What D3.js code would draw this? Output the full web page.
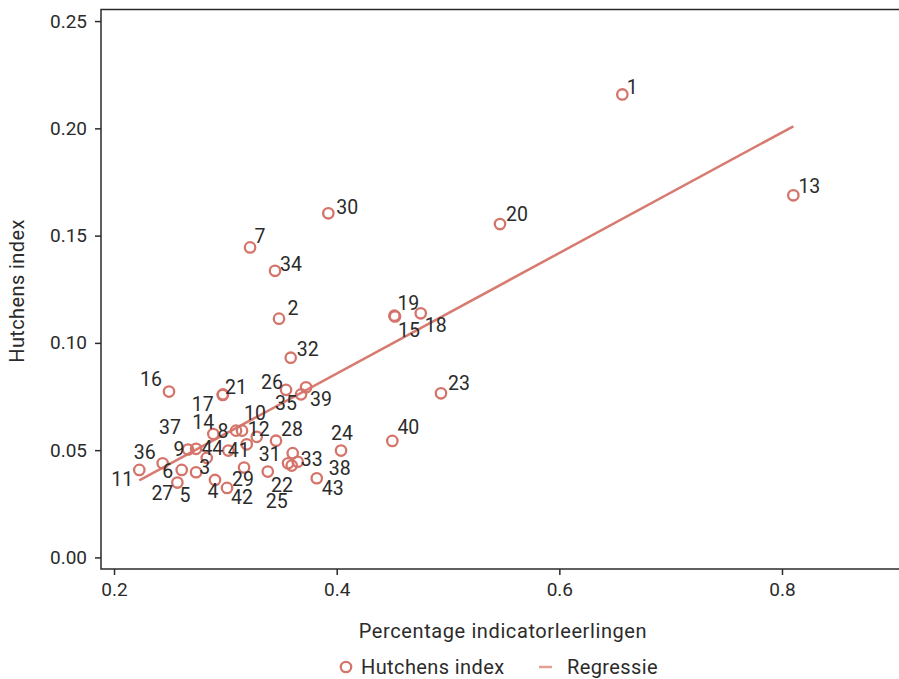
<!DOCTYPE html>
<html>
<head>
<meta charset="utf-8">
<script src="https://cdn.jsdelivr.net/npm/d3@7"></script>
<style>
  html, body { margin: 0; padding: 0; background: #fff; }
  svg text { font-family: Roboto, "DejaVu Sans", sans-serif; fill: #2b2b2b; }
</style>
</head>
<body>
<div id="chart"></div>
<script>
// school ids, share of indicator pupils (x) and Hutchens index (y)
const ids = [1, 2, 3, 4, 5, 6, 7, 8, 9, 10, 11, 12, 13, 14, 15, 16, 17, 18, 19, 20, 21, 22,
  23, 24, 25, 26, 27, 28, 29, 30, 31, 32, 33, 34, 35, 36, 37, 38, 39, 40, 41, 42, 43, 44];
const pctIndicator = [0.6566, 0.3482, 0.2833, 0.2907, 0.2737, 0.2608, 0.3222, 0.3096, 0.2665, 0.3150, 0.2227,
  0.3282, 0.8102, 0.2892, 0.4524, 0.2494, 0.2976, 0.4755, 0.4518, 0.5467, 0.2979, 0.3563,
  0.4937, 0.4039, 0.3596, 0.3545, 0.2569, 0.3455, 0.3168, 0.3925, 0.3381, 0.3587, 0.3650,
  0.3446, 0.3680, 0.2437, 0.2737, 0.3605, 0.3725, 0.4500, 0.3192, 0.3015, 0.3821, 0.3027];
const hutchens = [0.2158, 0.1113, 0.0464, 0.0361, 0.0397, 0.0408, 0.1445, 0.0591, 0.0503, 0.0591, 0.0408,
  0.0562, 0.1688, 0.0575, 0.1123, 0.0773, 0.0757, 0.1138, 0.1127, 0.1554, 0.0760, 0.0439,
  0.0765, 0.0498, 0.0428, 0.0781, 0.0349, 0.0544, 0.0419, 0.1604, 0.0400, 0.0931, 0.0446,
  0.1336, 0.0760, 0.0439, 0.0506, 0.0486, 0.0793, 0.0543, 0.0527, 0.0324, 0.0369, 0.0498];

// fitted line
const regIntercept = -0.0267;
const regSlope = 0.281;

const xTicks = [0.2, 0.4, 0.6, 0.8];
const yTicks = [0.00, 0.05, 0.10, 0.15, 0.20, 0.25];
const xDomain = [0.1883, 0.9051];
const yDomain = [-0.0054, 0.2554];

const xTitle = 'Percentage indicatorleerlingen';
const yTitle = 'Hutchens index';
const legendLabels = ['Hutchens index', 'Regressie'];

// label placement (pixels from the marker centre)
const labelOffset = {
  1: [10, -7], 2: [14, -10], 3: [-2, 10], 4: [-2, 12], 5: [-11, 23], 6: [-14, 2], 7: [10, -11],
  8: [-13, 1], 9: [-9, 0], 10: [13, -17], 11: [-17, 10], 12: [2, -7], 13: [16, -9], 14: [-10, -12],
  15: [14, 14], 16: [-18, -12], 17: [-20, 9], 18: [15, 12], 19: [14, -12], 20: [17, -10],
  21: [13, -7], 22: [-6, 22], 23: [18, -10], 24: [1, -17], 25: [-15, 36], 26: [-14, -7],
  27: [-15, 11], 28: [16, -11], 29: [-1, 12], 30: [19, -6], 31: [2, -17], 32: [17, -8],
  33: [14, -2], 34: [16, -6], 35: [-15, 9], 36: [-18, -11], 37: [-26, -21], 38: [47, 15],
  39: [15, 12], 40: [16, -13], 41: [-8, 6], 42: [15, 10], 43: [16, 10], 44: [-16, -2]
};

const W = 899, H = 679;
const margin = { top: 9.5, right: 0, bottom: 110, left: 101 };
const width = W - margin.left - margin.right;
const height = H - margin.top - margin.bottom;
const markColor = '#d4746a';
const lineColor = '#d77b70';

const points = ids.map((id, i) => ({ id: id, x: pctIndicator[i], y: hutchens[i] }));

const svg = d3.select('#chart')
  .append('svg')
  .attr('width', W)
  .attr('height', H);

const g = svg.append('g')
  .attr('transform', `translate(${margin.left},${margin.top})`);

const x = d3.scaleLinear().domain(xDomain).range([0, width]);
const y = d3.scaleLinear().domain(yDomain).range([height, 0]);

// frame
g.append('rect')
  .attr('x', 0).attr('y', 0)
  .attr('width', width + 5).attr('height', height)
  .style('fill', 'none')
  .style('stroke', '#2b2b2b')
  .style('stroke-width', '1.5px');

const xAxis = g.append('g')
  .attr('transform', `translate(0,${height})`)
  .call(d3.axisBottom(x).tickValues(xTicks).tickFormat(d3.format('.1f')).tickSize(6).tickPadding(8));

const yAxis = g.append('g')
  .call(d3.axisLeft(y).tickValues(yTicks).tickFormat(d3.format('.2f')).tickSize(6).tickPadding(8));

[xAxis, yAxis].forEach(a => {
  a.select('.domain').remove();
  a.selectAll('.tick line').style('stroke', '#2b2b2b').style('stroke-width', '1.5px');
  a.selectAll('.tick text').style('font-size', '19px').style('fill', '#2b2b2b')
    .style('font-family', 'Roboto, sans-serif');
});

// regression line from smallest to largest x
const xExt = d3.extent(pctIndicator);
const reg = xExt.map(v => ({ x: v, y: regIntercept + regSlope * v }));
g.append('path')
  .datum(reg)
  .attr('d', d3.line().x(d => x(d.x)).y(d => y(d.y)))
  .style('fill', 'none')
  .style('stroke', lineColor)
  .style('stroke-width', '2.5px');

g.selectAll('circle.pt')
  .data(points)
  .enter().append('circle')
  .attr('class', 'pt')
  .attr('cx', d => x(d.x))
  .attr('cy', d => y(d.y))
  .attr('r', 5.2)
  .style('fill', 'none')
  .style('stroke', markColor)
  .style('stroke-width', '2.3px');

g.selectAll('text.lbl')
  .data(points)
  .enter().append('text')
  .attr('class', 'lbl')
  .attr('x', d => x(d.x) + labelOffset[d.id][0])
  .attr('y', d => y(d.y) + labelOffset[d.id][1])
  .attr('text-anchor', 'middle')
  .attr('dominant-baseline', 'central')
  .style('font-size', '19.5px')
  .text(d => d.id);

// axis titles
svg.append('text')
  .attr('x', 503)
  .attr('y', 638)
  .attr('text-anchor', 'middle')
  .style('font-size', '20px')
  .style('letter-spacing', '0.6px')
  .text(xTitle);

svg.append('text')
  .attr('transform', 'translate(24,291) rotate(-90)')
  .attr('text-anchor', 'middle')
  .style('font-size', '20px')
  .style('letter-spacing', '0.4px')
  .text(yTitle);

// legend
const leg = svg.append('g').attr('transform', 'translate(0,667)');
leg.append('circle')
  .attr('cx', 346).attr('cy', 0).attr('r', 5.2)
  .style('fill', 'none').style('stroke', markColor).style('stroke-width', '2.3px');
leg.append('text').attr('x', 361).attr('y', 0).attr('dominant-baseline', 'central')
  .style('font-size', '20px').style('letter-spacing', '0.4px').text(legendLabels[0]);
leg.append('line')
  .attr('x1', 539).attr('x2', 552).attr('y1', 0).attr('y2', 0)
  .style('stroke', '#e3a196').style('stroke-width', '2.5px');
leg.append('text').attr('x', 567).attr('y', 0).attr('dominant-baseline', 'central')
  .style('font-size', '20px').style('letter-spacing', '0.4px').text(legendLabels[1]);
</script>
</body>
</html>
